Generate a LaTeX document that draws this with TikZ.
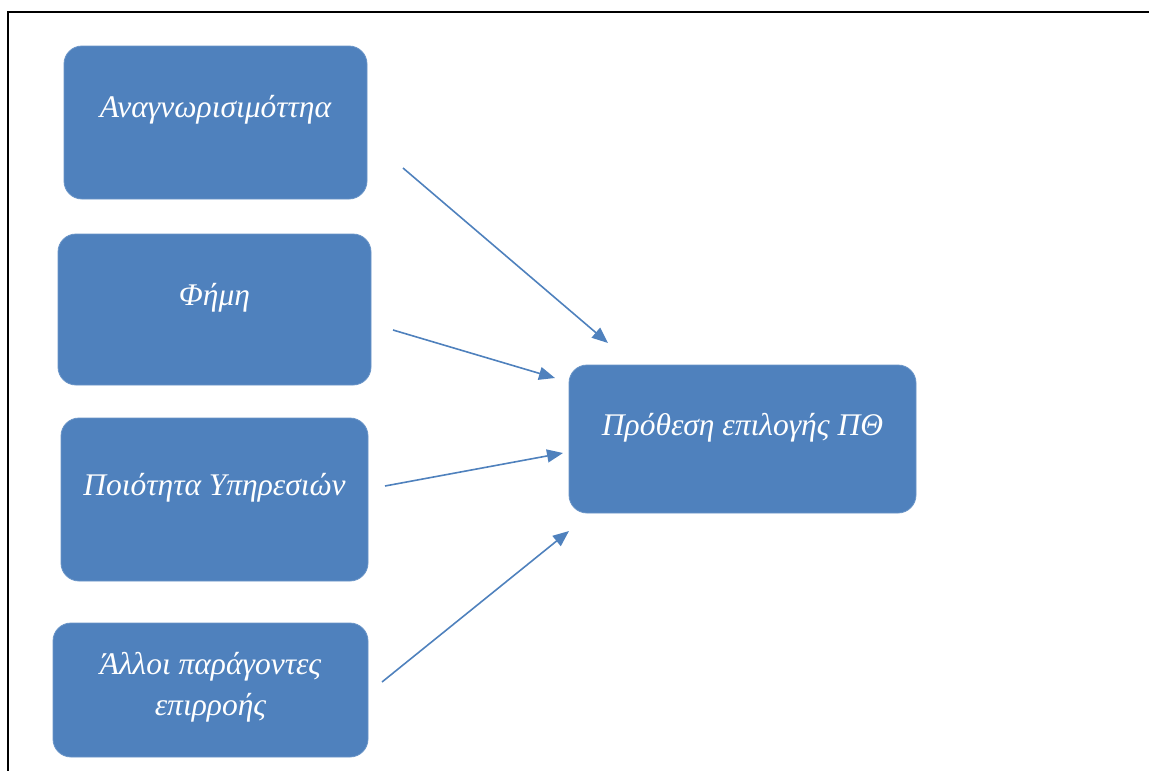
\documentclass[tikz,border=0pt]{standalone}
\usepackage{fontspec}
\setmainfont{Liberation Serif}
\usetikzlibrary{arrows.meta}
\definecolor{boxblue}{HTML}{4F81BD}
\tikzset{
  box/.style={fill=boxblue, draw=boxblue!85!white, line width=0.8pt, rounded corners=18pt, inner sep=0pt},
  lbl/.style={text=white, font=\fontsize{31.5}{41}\selectfont\itshape, anchor=base, inner sep=0pt, align=center},
  conn/.style={draw=boxblue, line width=1.6pt, -{Triangle[length=16pt,width=13pt]}}
}
\begin{document}
\begin{tikzpicture}[x=1pt,y=-1pt]
\useasboundingbox (0,0) rectangle (1149,771);
\clip (0,0) rectangle (1149,771);
% frame
\draw[line width=2.4pt] (8,1200) -- (8,12) -- (1400,12);
% boxes
\path[box] (64,46) rectangle (367,199) node[midway] (b1) {};
\path[box] (58,234) rectangle (371,385) node[midway] (b2) {};
\path[box] (61,418) rectangle (368,581) node[midway] (b3) {};
\path[box] (53,623) rectangle (368,757) node[midway] (b4) {};
\path[box] (569,365) rectangle (916,513) node[midway] (b5) {};
% labels
\node[lbl] (t1) at (215.5,117) {Αναγνωρισιμόττηα};
\node[lbl] (t2) at (214.5,305) {Φήμη};
\node[lbl] (t3) at (214.5,495) {Ποιότητα Υπηρεσιών};
\node[lbl, anchor=north] (t4) at (210.5,652) {Άλλοι παράγοντες\\επιρροής};
\node[lbl] (t5) at (742.5,435) {Πρόθεση επιλογής ΠΘ};
% connector endpoints
\coordinate (s1) at (403,168); \coordinate (e1) at (608,343);
\coordinate (s2) at (393,330); \coordinate (e2) at (555,378);
\coordinate (s3) at (385,486); \coordinate (e3) at (563,453);
\coordinate (s4) at (382,682); \coordinate (e4) at (569,531);
\draw[conn] (s1) -- (e1);
\draw[conn] (s2) -- (e2);
\draw[conn] (s3) -- (e3);
\draw[conn] (s4) -- (e4);
\end{tikzpicture}
\end{document}
